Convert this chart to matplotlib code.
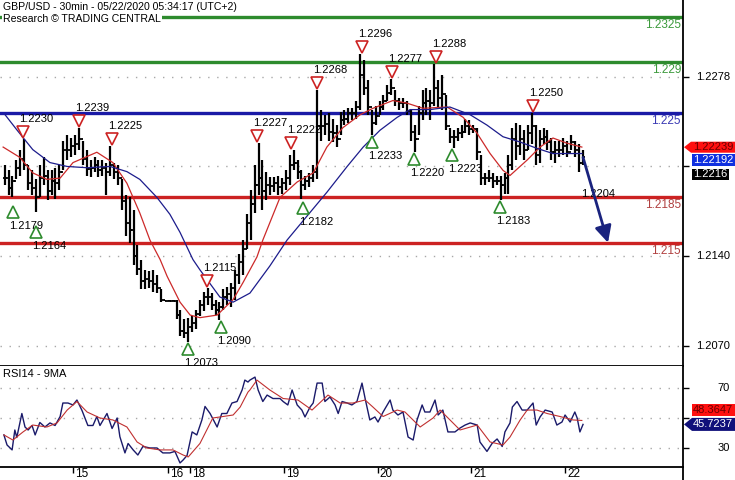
import numpy as np
import matplotlib
matplotlib.use("Agg")
import matplotlib.pyplot as plt
from matplotlib.patches import Polygon
from matplotlib.transforms import IdentityTransform, offset_copy

plt.rcParams['font.family'] = ['Liberation Sans', 'DejaVu Sans']

# ---------------- data (prices in pips above 1.2000, time in hours) ----------------
BASE = 1.2
PIP = 1e-4

bar_high = [210, 206, 202, 214, 222, 230, 210, 206, 199, 210, 216, 206, 206, 208, 210, 229, 233, 231, 233, 239,
            229, 222, 214, 216, 214, 214, 212, 225, 212, 210, 199, 187, 185, 175, 148, 137, 129, 128, 129, 125,
            114, 106, 106, 106, 106, 98, 91, 92, 93, 98, 106, 112, 115, 111, 106, 104, 114, 116, 119, 129,
            141, 152, 172, 191, 210, 227, 214, 205, 201, 201, 202, 200, 206, 218, 222, 214, 206, 202, 204, 210,
            268, 253, 249, 250, 246, 241, 251, 253, 254, 254, 260, 296, 291, 276, 253, 256, 260, 264, 272, 277,
            268, 262, 262, 260, 253, 241, 256, 268, 270, 268, 288, 276, 280, 264, 239, 237, 239, 241, 246, 245,
            241, 239, 218, 204, 206, 204, 202, 202, 204, 218, 239, 243, 241, 237, 241, 250, 241, 237, 239, 237,
            231, 229, 229, 231, 229, 233, 229, 226, 222]
bar_low = [195, 187, 185, 199, 202, 206, 191, 187, 174, 185, 195, 183, 187, 184, 191, 206, 214, 216, 218, 222,
           210, 202, 201, 205, 201, 202, 187, 202, 199, 195, 175, 155, 150, 133, 125, 114, 114, 115, 112, 111,
           104, 105, 105, 105, 91, 78, 76, 73, 81, 83, 93, 97, 102, 98, 94, 90, 98, 102, 100, 106,
           118, 125, 145, 152, 173, 187, 175, 183, 187, 189, 187, 188, 191, 195, 206, 199, 184, 191, 193, 197,
           199, 229, 233, 229, 228, 224, 233, 241, 243, 245, 246, 253, 264, 249, 233, 241, 249, 253, 260, 264,
           256, 253, 254, 249, 229, 220, 233, 245, 249, 245, 256, 254, 253, 237, 227, 223, 229, 231, 235, 233,
           235, 214, 195, 195, 197, 192, 195, 183, 188, 188, 206, 214, 218, 214, 222, 226, 210, 212, 226, 222,
           214, 212, 216, 218, 216, 222, 216, 205, 210]
bar_close = [200, 192, 198, 208, 215, 210, 196, 192, 185, 200, 202, 190, 198, 196, 205, 222, 222, 225, 226, 230,
             215, 207, 208, 210, 206, 208, 205, 210, 205, 200, 182, 165, 160, 140, 130, 120, 122, 120, 118, 115,
             106, 105, 105, 105, 94, 82, 80, 85, 88, 95, 102, 108, 108, 102, 98, 100, 108, 110, 115, 125,
             135, 145, 165, 180, 195, 200, 190, 195, 194, 196, 193, 196, 200, 210, 212, 205, 195, 198, 200, 205,
             240, 240, 242, 236, 235, 230, 245, 246, 250, 250, 255, 280, 270, 255, 243, 248, 255, 260, 266, 270,
             260, 258, 258, 252, 236, 230, 250, 258, 260, 258, 270, 262, 265, 240, 232, 232, 235, 236, 240, 238,
             238, 220, 200, 200, 200, 198, 198, 195, 200, 210, 230, 225, 230, 222, 235, 240, 218, 230, 232, 228,
             220, 222, 222, 225, 220, 228, 222, 212, 216]

red_ma_t = [-0.4, 3.9, 7.2, 10.8, 14.2, 17.5, 23.6, 27.7, 31.3, 34.6, 37.2, 39.8, 41.6, 44.9, 47.5, 50.0, 54.4,
            58.5, 61.0, 64.6, 66.1, 70.5, 74.9, 79.0, 82.5, 86.6, 91.0, 94.3, 99.4, 103.0, 107.1, 113.3, 117.4,
            120.9, 124.3, 127.6, 129.4, 133.8, 137.1, 140.4, 144.0, 147.8]
red_ma = [224, 216, 204, 199, 200, 212, 220, 212, 196, 173, 152, 137, 124, 104, 94, 92, 94,
          106, 119, 139, 152, 185, 197, 204, 224, 239, 249, 254, 260, 258, 254, 255, 247,
          235, 219, 206, 202, 214, 224, 231, 227, 224]

blue_ma_t = [0.1, 3.2, 7.2, 11.6, 16.0, 21.1, 27.0, 31.3, 34.6, 39.0, 42.3, 44.9, 48.2, 50.0, 55.1, 58.5, 62.8,
             67.9, 72.3, 75.6, 82.5, 87.7, 91.8, 96.1, 100.5, 103.8, 108.9, 114.0, 119.2, 123.5, 127.6, 131.9,
             136.3, 140.4, 147.8]
blue_ma = [249, 237, 222, 212, 209, 208, 209, 205, 199, 185, 172, 158, 137, 129, 108, 104, 111,
           132, 152, 164, 189, 209, 224, 237, 247, 253, 253, 255, 249, 241, 232, 228,
           223, 219, 219]

rsi_t = [-0.2, 0.6, 1.9, 2.6, 3.1, 4.4, 5.2, 6.0, 7.0, 7.8, 9.0, 10.3, 11.6, 12.9, 14.2, 14.9, 16.2, 17.5, 18.5,
         19.8, 21.3, 22.6, 23.6, 24.4, 26.2, 27.5, 28.8, 29.5, 30.8, 31.6, 32.9, 34.1, 35.4, 37.2, 39.0, 40.5,
         42.3, 43.6, 44.9, 45.7, 46.7, 48.0, 49.2, 50.5, 51.3, 52.6, 54.4, 55.6, 56.9, 58.2, 59.5, 60.8, 61.5,
         62.3, 62.8, 64.1, 64.9, 66.1, 67.2, 68.7, 70.5, 71.3, 72.5, 73.6, 74.9, 76.1, 76.9, 78.2, 79.0, 80.0,
         81.3, 82.0, 83.3, 84.6, 85.4, 86.4, 87.7, 88.9, 90.2, 91.5, 92.3, 93.5, 94.8, 95.6, 96.9, 98.7, 99.4,
         100.7, 102.0, 103.3, 104.6, 105.6, 106.9, 107.6, 108.9, 110.2, 111.0, 112.2, 113.5, 115.3, 116.6,
         117.9, 119.2, 121.0, 121.7, 123.5, 124.8, 126.1, 127.4, 128.1, 129.4, 130.0, 131.2, 132.5, 133.8,
         135.3, 136.1, 137.1, 138.4, 140.2, 141.4, 142.7, 143.5, 144.8, 146.0, 146.6, 147.3, 148.1]
rsi = [38.7, 32, 28.7, 42, 37, 53, 44, 42, 45, 38.7, 47, 44, 46.7, 45, 51, 60, 60, 58.7, 62,
       55, 45, 45, 51, 45, 53, 43, 50, 37.5, 26.7, 33, 28.7, 25.3, 31, 30, 30, 26.7,
       26.7, 27.7, 20, 22, 25, 40.7, 38.7, 48.7, 57.7, 53, 44, 53, 53, 60, 61, 68.7, 75.3,
       74, 75.3, 77.3, 68.7, 61, 65.3, 63, 63, 61, 58.7, 68.7, 58.7, 55.3, 50.7, 57.3, 60, 73.3,
       73.3, 61, 64, 58.7, 53, 61, 60, 58.7, 61, 73.3, 63, 48.7, 50.7, 47.3, 54, 62, 55.3,
       52, 54, 37.3, 35.3, 48.7, 58.7, 54, 54, 62, 52, 55.3, 40.7, 40.7, 43.3,
       45.3, 46.7, 45.3, 34, 27.7, 33, 36, 31, 40.7, 46.7, 57.3, 61, 55.3, 55.3,
       60, 45.3, 50.7, 55.3, 54, 45.3, 47.3, 52, 47.3, 54, 50, 40.7, 45.7237]

rsi_ma_t = [-0.2, 2.1, 4.7, 7.2, 10.8, 13.4, 16.0, 18.5, 21.1, 24.4, 27.7, 31.3, 33.9, 36.4, 39.8, 43.1, 45.7,
            47.0, 50.0, 53.3, 55.9, 58.5, 60.3, 62.3, 62.8, 64.6, 67.9, 71.3, 75.1, 78.7, 82.8, 85.9, 89.2,
            92.3, 94.3, 96.9, 100.5, 102.5, 106.4, 109.7, 111.5, 116.6, 121.0, 124.3, 127.6, 129.4, 132.0,
            133.8, 136.3, 138.9, 142.2, 145.5, 147.8]
rsi_ma = [38.7, 35.3, 40.7, 45.3, 44, 46.7, 55.3, 61, 54, 50, 48.7, 44, 34, 30, 28.7, 28.7, 25.3,
          24, 33, 50, 51, 52, 57.3, 67.3, 68.7, 75.3, 68.7, 63, 62, 55.3, 65.3, 60, 60,
          62, 57.3, 51, 55.3, 54, 44, 50, 55.3, 42, 45.3, 34, 32, 37.3, 48.7,
          55.3, 55.3, 53, 51, 48.7, 48.3647]

levels = [1.2325, 1.229, 1.225, 1.2185, 1.215]
level_labels = ['1.2325', '1.229', '1.225', '1.2185', '1.215']
level_colors = ['#2e8b2e', '#2e8b2e', '#1a1aa6', '#cc2222', '#cc2222']
level_text_colors = ['#3c9a3c', '#3c9a3c', '#3a3ab4', '#b04040', '#b04040']

pivot_high_t = [4.7, 19.0, 27.5, 51.8, 64.6, 73.3, 80.0, 91.5, 99.2, 110.4, 135.3]
pivot_high = [1.2230, 1.2239, 1.2225, 1.2115, 1.2227, 1.2222, 1.2268, 1.2296, 1.2277, 1.2288, 1.2250]
pivot_low_t = [2.1, 8.0, 46.9, 55.4, 76.4, 94.1, 104.8, 114.5, 126.8]
pivot_low = [1.2179, 1.2164, 1.2073, 1.2090, 1.2182, 1.2233, 1.2220, 1.2223, 1.2183]

target_label_t = 147.6
target_label_price = 1.2188
target_label = '1.2204'
arrow_from = (148.1, 1.2216)
arrow_to = (154.5, 1.2150)

day_ticks = [17.5, 41.8, 47.5, 71.5, 95.5, 119.5, 143.5]
day_labels = ['15', '16', '18', '19', '20', '21', '22']

price_ticks = [1.2070, 1.2140, 1.2209, 1.2278]
price_tick_labels = ['1.2070', '1.2140', '', '1.2278']
rsi_ticks = [30, 50, 70]
rsi_tick_labels = ['30', '', '70']

red_ma_last, blue_ma_last, last_close = 1.22239, 1.22192, 1.2216
rsi_ma_last, rsi_last = 48.3647, 45.7237

# ---------------- figure ----------------
W, H = 735, 480
fig = plt.figure(figsize=(W / 100, H / 100), dpi=100)
fig.patch.set_facecolor('white')
ax = fig.add_axes([0, 1 - 366 / H, 683 / W, 366 / H])
axr = fig.add_axes([0, 1 - 467 / H, 683 / W, (467 - 366) / H], sharex=ax)

ax.set_xlim(-1.2, 173.7)
ax.set_ylim(1.20546, 1.23378)
axr.set_ylim(17.3, 84.7)

t = np.arange(len(bar_high))
hi = BASE + np.array(bar_high) * PIP
lo = BASE + np.array(bar_low) * PIP
cl = BASE + np.array(bar_close) * PIP
op = np.concatenate([[cl[0]], cl[:-1]])

dot = (0, (1, 5.5))
for a, tk in ((ax, price_ticks), (axr, rsi_ticks)):
    a.set_yticks(tk)
    a.yaxis.tick_right()
    a.tick_params(axis='y', direction='out', length=4, width=1, labelright=False, labelleft=False)
    a.grid(axis='y', linestyle=dot, color='#a8a8a8', lw=1.0)
    a.grid(axis='x', visible=False)
    for s in ('top', 'left'):
        a.spines[s].set_visible(False)
    a.spines['right'].set_linewidth(1.3)
    a.spines['bottom'].set_linewidth(1.3)
    a.set_axisbelow(True)

# levels
for v, c in zip(levels, level_colors):
    ax.axhline(v, color=c, lw=2.4, zorder=2)
for v, s, c in zip(levels, level_labels, level_text_colors):
    ax.annotate(s, xy=(1, v), xycoords=('axes fraction', 'data'), xytext=(-2, -2),
                textcoords='offset pixels', ha='right', va='top', fontsize=8.5, color=c, zorder=3)

# bars
ax.vlines(t, lo, hi, color='black', lw=1.6, zorder=4)
ax.hlines(cl, t, t + 0.55, color='black', lw=1.3, zorder=4)
ax.hlines(op, t - 0.55, t, color='black', lw=1.3, zorder=4)

# moving averages
ax.plot(red_ma_t, BASE + np.array(red_ma) * PIP, color='#cc2a2a', lw=0.9, zorder=5)
ax.plot(blue_ma_t, BASE + np.array(blue_ma) * PIP, color='#1c1c8c', lw=0.9, zorder=5)

# pivots
up7 = offset_copy(ax.transData, fig=fig, x=0, y=7, units='dots')
dn7 = offset_copy(ax.transData, fig=fig, x=0, y=-7, units='dots')
ax.plot(pivot_high_t, pivot_high, linestyle='none', marker='v', ms=8, mfc='white', mec='#cc2222', mew=1.2,
        transform=up7, zorder=6)
ax.plot(pivot_low_t, pivot_low, linestyle='none', marker='^', ms=8, mfc='white', mec='#2e8b2e', mew=1.2,
        transform=dn7, zorder=6)
for x, v in zip(pivot_high_t, pivot_high):
    ax.annotate(f'{v:.4f}', xy=(x, v), xytext=(-4, 20), textcoords='offset pixels',
                ha='left', va='center', fontsize=8, color='black', zorder=7)
for x, v in zip(pivot_low_t, pivot_low):
    ax.annotate(f'{v:.4f}', xy=(x, v), xytext=(-4, -21), textcoords='offset pixels',
                ha='left', va='center', fontsize=8, color='black', zorder=7)
ax.text(target_label_t, target_label_price, target_label, ha='left', va='center', fontsize=8, zorder=7)

# forecast arrow
ax.annotate('', xy=arrow_to, xytext=arrow_from,
            arrowprops=dict(arrowstyle='-|>,head_length=1.0,head_width=0.5', color='#1a237e', lw=2.0,
                            shrinkA=0, shrinkB=0), zorder=8)

# titles
ax.text(3, H - 2, 'GBP/USD - 30min - 05/22/2020 05:34:17 (UTC+2)', transform=IdentityTransform(),
        ha='left', va='top', fontsize=7.6, zorder=9,
        bbox=dict(boxstyle='square,pad=0.1', fc='white', ec='none'))
ax.text(3, H - 14, 'Research \u00a9 TRADING CENTRAL', transform=IdentityTransform(),
        ha='left', va='top', fontsize=7.6, zorder=9,
        bbox=dict(boxstyle='square,pad=0.1', fc='white', ec='none'))

# RSI
axr.plot(rsi_t, rsi, color='#1a1a6a', lw=1.0, zorder=4)
axr.plot(rsi_ma_t, rsi_ma, color='#c03030', lw=0.8, zorder=5)
axr.annotate('RSI14 - 9MA', xy=(0, 1), xycoords='axes fraction', xytext=(3, -3),
             textcoords='offset pixels', ha='left', va='top', fontsize=8)

# right axis tick labels
for v, s in zip(price_ticks, price_tick_labels):
    ax.annotate(s, xy=(1, v), xycoords=('axes fraction', 'data'), xytext=(47, 0),
                textcoords='offset pixels', ha='right', va='center', fontsize=8, annotation_clip=False)
for v, s in zip(rsi_ticks, rsi_tick_labels):
    axr.annotate(s, xy=(1, v), xycoords=('axes fraction', 'data'), xytext=(47, 0),
                 textcoords='offset pixels', ha='right', va='center', fontsize=8, annotation_clip=False)

# x axis (days)
axr.set_xticks(day_ticks)
axr.tick_params(axis='x', direction='out', length=4.5, width=1, labelbottom=False)
for x, s in zip(day_ticks, day_labels):
    axr.annotate(s, xy=(x, 0), xycoords=('data', 'axes fraction'), xytext=(2, -1),
                 textcoords='offset pixels', ha='left', va='top', fontsize=8.5)
plt.setp(ax.get_xticklabels(), visible=False)
ax.tick_params(axis='x', length=0)

# extend right spine to the bottom of the image
fig.add_artist(plt.Line2D([683 / W, 683 / W], [0, 13 / H], color='black', lw=1.3, transform=fig.transFigure))

# value tags on the right
fig.canvas.draw()


def tag(axis, value, text, fc, tc, dy, x_left, x_right, arrow=False, h=12):
    y = axis.transData.transform((0, value))[1] - dy
    pts = [(x_left, y - h / 2), (x_right, y - h / 2), (x_right, y + h / 2), (x_left, y + h / 2)]
    if arrow:
        pts = [(684, y)] + pts
    fig.add_artist(Polygon(pts, closed=True, fc=fc, ec='none', transform=IdentityTransform(), zorder=10))
    fig.text(x_right - 2, y, text, ha='right', va='center', color=tc, fontsize=8,
             transform=IdentityTransform(), zorder=11)


tag(ax, red_ma_last, f'{red_ma_last:.5f}', '#ff1010', '#6a0000', 0, 691, 735, arrow=True, h=11)
tag(ax, blue_ma_last, f'{blue_ma_last:.5f}', '#1030e0', 'white', 7, 692, 735, h=12)
tag(ax, last_close, f'{last_close:.4f}', 'black', 'white', 17, 692, 729, h=11)
tag(axr, rsi_ma_last, f'{rsi_ma_last:.4f}', '#ff1010', '#6a0000', -10, 692, 735, h=12)
tag(axr, rsi_last, f'{rsi_last:.4f}', '#10107a', 'white', 0, 692, 735, arrow=True, h=13)

fig.savefig('out.png', dpi=100)
